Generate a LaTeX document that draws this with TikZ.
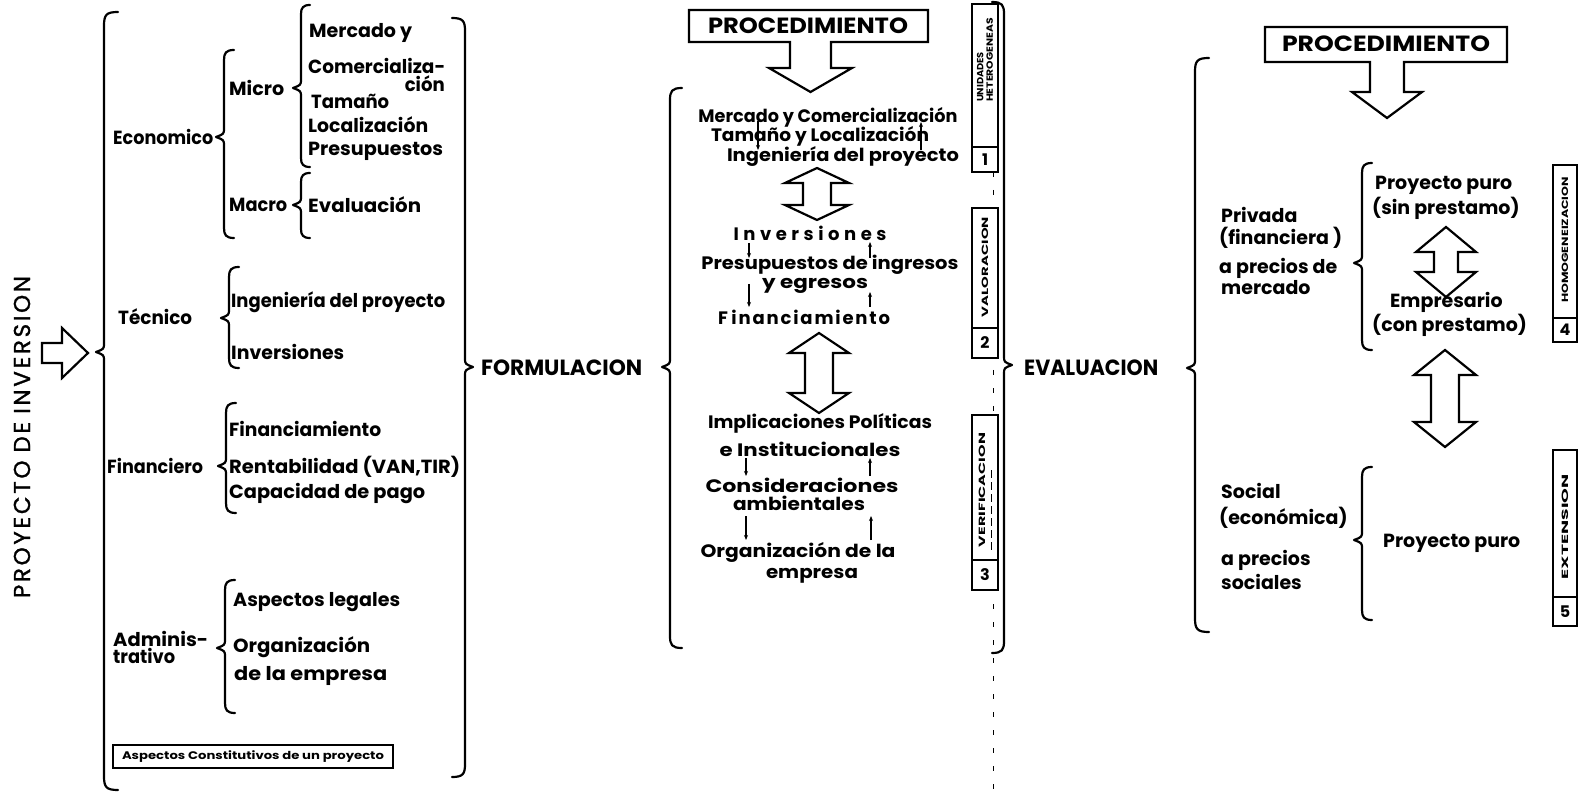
\documentclass[tikz,border=0pt]{standalone}
\usepackage{graphicx}
\usepackage{fontspec}
\setmainfont{Poppins}
\usetikzlibrary{arrows.meta}

% text squeezed or stretched to a given width (in pt), height kept
\newcommand\fw[2]{\resizebox{#1pt}{\height}{#2}}
% letters spread over a given width
\newcommand\spreadto[2]{\makebox[#1pt][s]{#2}}

% opening brace: line x, top y, bottom y, tip y, curl size
\newcommand\BrOpen[5]{%
  \draw[brc] (#1+#5,#2) .. controls (#1+2,#2) and (#1,#2+3) .. (#1,#2+#5)
    -- (#1,#4-9) .. controls (#1,#4-3) .. (#1-8,#4)
    .. controls (#1,#4+3) .. (#1,#4+9)
    -- (#1,#3-#5) .. controls (#1,#3-3) and (#1+2,#3) .. (#1+#5,#3);}
% closing brace: line x, top y, bottom y, tip y, curl size
\newcommand\BrClose[5]{%
  \draw[brc] (#1-#5,#2) .. controls (#1-2,#2) and (#1,#2+3) .. (#1,#2+#5)
    -- (#1,#4-9) .. controls (#1,#4-3) .. (#1+8,#4)
    .. controls (#1,#4+3) .. (#1,#4+9)
    -- (#1,#3-#5) .. controls (#1,#3-3) and (#1-2,#3) .. (#1-#5,#3);}
% hollow two-headed vertical arrow: centre x, top, bottom, head half width, shaft half width, head height
\newcommand\DArrow[6]{%
  \draw[harrow] (#1,#2) -- (#1+#4,#2+#6) -- (#1+#5,#2+#6) -- (#1+#5,#3-#6)
    -- (#1+#4,#3-#6) -- (#1,#3) -- (#1-#4,#3-#6) -- (#1-#5,#3-#6)
    -- (#1-#5,#2+#6) -- (#1-#4,#2+#6) -- cycle;}

\tikzset{
  brc/.style={line width=2.2pt, line cap=round, line join=round},
  harrow/.style={draw, line width=2.2pt, fill=white, line join=miter},
  thinarr/.style={line width=1.4pt, -{Stealth[length=5pt,width=4pt]}},
  txl/.style={inner sep=0pt, anchor=west, font=\bfseries\fontsize{19}{20}\selectfont},
  txm/.style={inner sep=0pt, font=\bfseries\fontsize{18}{19}\selectfont},
  ttl/.style={inner sep=0pt, font=\bfseries\fontsize{22}{24}\selectfont},
  labbox/.style={draw, line width=2pt, fill=white},
  labtxt/.style={inner sep=0pt, rotate=90, font=\bfseries\fontsize{9}{10.5}\selectfont},
  numtxt/.style={inner sep=0pt, font=\bfseries\fontsize{16}{17}\selectfont},
}

\begin{document}
\begin{tikzpicture}[x=1pt,y=-1pt]
\useasboundingbox (0,0) rectangle (1579,799);
\fill[white] (0,0) rectangle (1579,799);

% ---------- title and entry arrow ----------
\node[inner sep=0pt, rotate=90, font=\fontsize{23}{24}\selectfont\addfontfeature{FakeBold=1.2}] (title) at (22,437)
  {\spreadto{322}{P\hfill R\hfill O\hfill Y\hfill E\hfill C\hfill T\hfill O\hfill\hfill\hfill D\hfill E\hfill\hfill\hfill I\hfill N\hfill V\hfill E\hfill R\hfill S\hfill I\hfill O\hfill N}};
\draw[harrow] (42,343) -- (62,343) -- (62,328) -- (88,353) -- (62,378) -- (62,363) -- (42,363) -- cycle;

% ---------- aspects of a project ----------
\BrOpen{104}{12}{790}{352}{14}
\BrClose{465}{18}{777}{367}{13}

\node[txl] (eco) at (113,137) {\fw{100}{Economico}};
\BrOpen{224}{50}{238}{137}{10}
\node[txl] (micro) at (229,88) {\fw{55}{Micro}};
\node[txl] (macro) at (229,205) {\fw{58}{Macro}};
\BrOpen{301}{5}{167}{88}{9}
\BrOpen{301}{173}{238}{205}{9}
\node[txl] (merc) at (309,33) {\fw{103}{Mercado y}};
\node[txl] (comer) at (308,66) {\fw{137}{Comercializa-}};
\node[txl, anchor=east] (cion) at (445,84) {\fw{40}{ción}};
\node[txl] (tam) at (311,101) {\fw{78}{Tamaño}};
\node[txl] (loc) at (308,125) {\fw{120}{Localización}};
\node[txl] (pres) at (308,151) {\fw{135}{Presupuestos}};
\node[txl] (evalua) at (308,205) {\fw{113}{Evaluación}};

\node[txl] (tec) at (118,317) {\fw{74}{Técnico}};
\BrOpen{229}{267}{368}{318}{10}
\node[txl] (ing) at (231,302) {\fw{214}{Ingeniería del proyecto}};
\node[txl] (inv) at (231,352) {\fw{113}{Inversiones}};

\node[txl] (fin) at (107,466) {\fw{96}{Financiero}};
\BrOpen{226}{403}{513}{466}{10}
\node[txl] (finan) at (229,429) {\fw{152}{Financiamiento}};
\node[txl] (rent) at (229,467) {\fw{231}{Rentabilidad (VAN,TIR)}};
\node[txl] (cap) at (229,494) {\fw{196}{Capacidad de pago}};

\node[txl] (admA) at (113,639) {\fw{95}{Adminis-}};
\node[txl] (admB) at (113,656) {\fw{62}{trativo}};
\BrOpen{225}{580}{713}{648}{10}
\node[txl] (legal) at (233,602) {\fw{167}{Aspectos legales}};
\node[txl] (org) at (233,647) {\fw{137}{Organización}};
\node[txl] (dela) at (234,676) {\fw{153}{de la empresa}};

\draw[line width=1.8pt] (113,745) rectangle (393,768);
\node[inner sep=0pt, font=\bfseries\fontsize{11}{12}\selectfont] (constit) at (253,757)
  {\fw{262}{Aspectos Constitutivos de un proyecto}};

\node[ttl, anchor=west] (form) at (481,368) {\fw{161}{FORMULACION}};

% ---------- formulation procedure ----------
\BrOpen{670}{88}{648}{367}{12}
\node[ttl] (proc1) at (808,26) {\fw{200}{PROCEDIMIENTO}};
\draw[line width=2.2pt, line join=miter] (790,42) -- (689,42) -- (689,10) -- (928,10)
  -- (928,42) -- (831,42) -- (831,68) -- (852,68) -- (810.5,92) -- (769,68) -- (790,68) -- cycle;

\node[txm] (m1) at (828,117) {\fw{259}{Mercado y Comercialización}};
\node[txm] (m2) at (820,136) {\fw{218}{Tamaño y Localización}};
\node[txm] (m3) at (843,157) {\fw{232}{Ingeniería del proyecto}};
\draw[thinarr] (758,121) -- (758,150);
\draw[thinarr] (921,150) -- (921,122);
\DArrow{817}{168}{220}{32}{14}{15}

\node[txm] (m4) at (810,233) {\spreadto{153}{I\hfill n\hfill v\hfill e\hfill r\hfill s\hfill i\hfill o\hfill n\hfill e\hfill s}};
\node[txm] (m5) at (830,265) {\fw{257}{Presupuestos de ingresos}};
\node[txm] (m6) at (815,286) {\fw{106}{y egresos}};
\node[txm] (m7) at (804,317) {\spreadto{172}{F\hfill\hfill i\hfill n\hfill a\hfill n\hfill c\hfill i\hfill a\hfill m\hfill i\hfill e\hfill n\hfill t\hfill o}};
\draw[thinarr] (749,243) -- (749,258);
\draw[thinarr] (870,258) -- (870,242);
\draw[thinarr] (749,284) -- (749,307);
\draw[thinarr] (870,307) -- (870,292);
\DArrow{819}{333}{413}{30}{14}{20}

\node[txm] (m8) at (820,423) {\fw{224}{Implicaciones Políticas}};
\node[txm] (m9) at (810,449) {\fw{181}{e Institucionales}};
\node[txm] (m10) at (802,485) {\fw{193}{Consideraciones}};
\node[txm] (m11) at (799,503) {\fw{132}{ambientales}};
\node[txm] (m12) at (798,552) {\fw{195}{Organización de la}};
\node[txm] (m13) at (812,576) {\fw{92}{empresa}};
\draw[thinarr] (746,458) -- (746,476);
\draw[thinarr] (870,476) -- (870,458);
\draw[thinarr] (746,516) -- (746,540);
\draw[thinarr] (871,540) -- (871,516);

% stages of the formulation
\draw[line width=0.9pt, dash pattern=on 5pt off 13pt] (993,172) -- (993,795);
\draw[labbox] (972,4) rectangle (998,172);
\draw[line width=2pt] (972,147) -- (998,147);
\node[labtxt, align=left] (s1) at (985,60) {\fw{50}{UNIDADES}\\[-1pt]\fw{84}{HETEROGENEAS}};
\node[numtxt] (n1) at (985,160) {1};
\draw[labbox] (972,208) rectangle (998,358);
\draw[line width=2pt] (972,328) -- (998,328);
\node[labtxt] (s2) at (985,267) {\fw{100}{VALORACION}};
\node[numtxt] (n2) at (985,343) {2};
\draw[labbox] (972,415) rectangle (998,590);
\draw[line width=2pt] (972,560) -- (998,560);
\node[labtxt] (s3) at (982,490) {\fw{114}{VERIFICACION}};
\draw[line width=1pt, dash pattern=on 8pt off 4pt] (991,470) -- (991,550);
\node[numtxt] (n3) at (985,575) {3};

\BrClose{1004}{2}{653}{365}{12}
\node[ttl, anchor=west] (evalt) at (1024,368) {\fw{134}{EVALUACION}};

% ---------- evaluation procedure ----------
\BrOpen{1195}{58}{632}{368}{14}
\node[ttl] (proc2) at (1386,44) {\fw{208}{PROCEDIMIENTO}};
\draw[line width=2.2pt, line join=miter] (1370,62) -- (1265,62) -- (1265,27) -- (1507,27)
  -- (1507,62) -- (1404,62) -- (1404,92) -- (1422,92) -- (1387,118) -- (1352,92) -- (1370,92) -- cycle;

\node[txl] (priv) at (1221,215) {Privada};
\node[txl] (finc) at (1219,238) {(financiera )};
\node[txl] (pm1) at (1219,268) {a precios de};
\node[txl] (pm2) at (1221,288) {mercado};
\BrOpen{1362}{163}{350}{263}{10}
\node[txl] (pp1) at (1375,185) {Proyecto puro};
\node[txl] (sinp) at (1372,208) {(sin prestamo)};
\DArrow{1446}{227}{297}{30}{12}{25}
\node[txl] (empr) at (1390,302) {Empresario};
\node[txl] (conp) at (1372,325) {(con prestamo)};

\DArrow{1445}{350}{447}{31}{14}{25}

\node[txl] (soc) at (1221,491) {Social};
\node[txl] (econ) at (1219,518) {(económica)};
\node[txl] (ps1) at (1221,560) {a precios};
\node[txl] (ps2) at (1221,582) {sociales};
\BrOpen{1362}{467}{620}{540}{10}
\node[txl] (pp2) at (1383,543) {Proyecto puro};

% stages of the evaluation
\draw[labbox] (1553,165) rectangle (1577,342);
\draw[line width=2pt] (1553,318) -- (1577,318);
\node[labtxt] (s4) at (1565,240) {\fw{126}{HOMOGENEIZACION}};
\node[numtxt] (n4) at (1565,330) {4};
\draw[labbox] (1553,450) rectangle (1577,626);
\draw[line width=2pt] (1553,597) -- (1577,597);
\node[labtxt] (s5) at (1565,527) {\fw{105}{EXTENSION}};
\node[numtxt] (n5) at (1565,612) {5};
\end{tikzpicture}
\end{document}
